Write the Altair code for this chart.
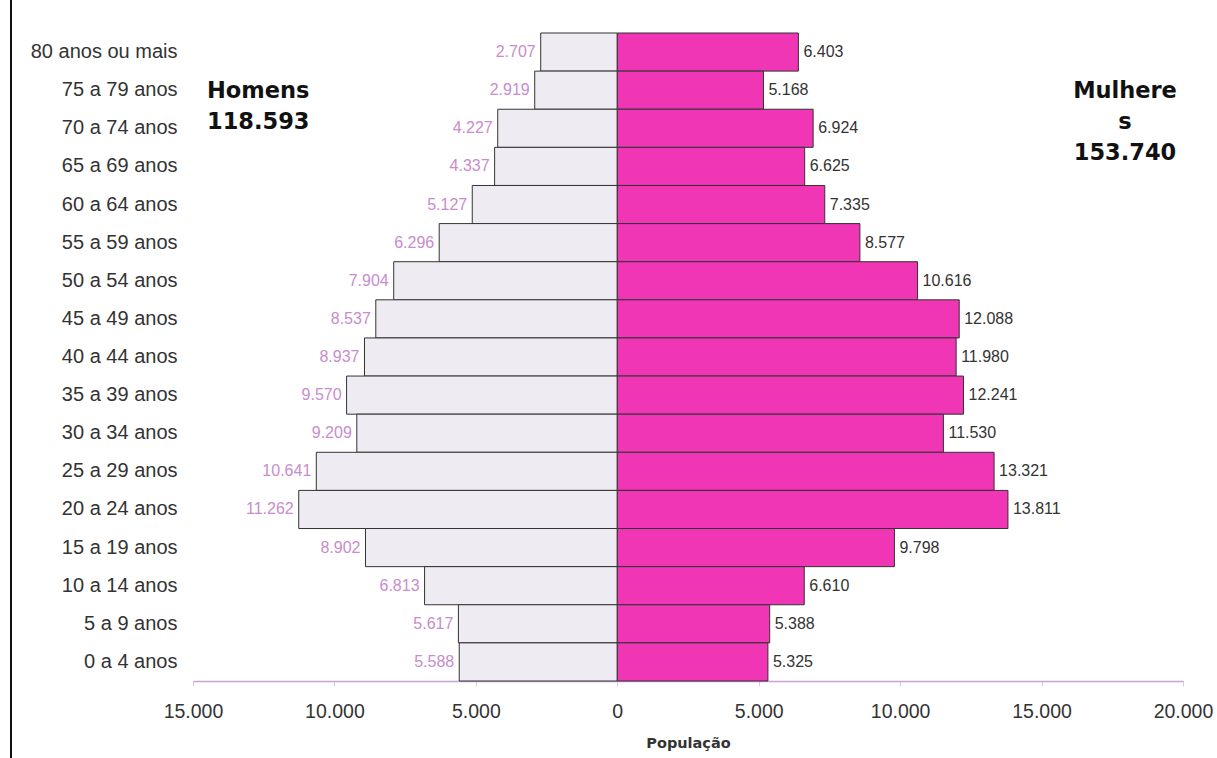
import altair as alt
import pandas as pd

ages = ["80 anos ou mais", "75 a 79 anos", "70 a 74 anos", "65 a 69 anos", "60 a 64 anos",
        "55 a 59 anos", "50 a 54 anos", "45 a 49 anos", "40 a 44 anos", "35 a 39 anos",
        "30 a 34 anos", "25 a 29 anos", "20 a 24 anos", "15 a 19 anos", "10 a 14 anos",
        "5 a 9 anos", "0 a 4 anos"]
homens = [2707, 2919, 4227, 4337, 5127, 6296, 7904, 8537, 8937, 9570, 9209, 10641, 11262,
          8902, 6813, 5617, 5588]
mulheres = [6403, 5168, 6924, 6625, 7335, 8577, 10616, 12088, 11980, 12241, 11530, 13321,
            13811, 9798, 6610, 5388, 5325]
x_ticks = [-15000, -10000, -5000, 0, 5000, 10000, 15000, 20000]

ann_text = ["Homens", "118.593", "Mulhere", "s", "153.740"]
ann_x = [14, 14, 932, 932, 932]
ann_y = [58, 89, 58, 89, 120]
ann_align = ["left", "left", "center", "center", "center"]


def fmt(v):
    return f"{v:,}".replace(",", ".")


rows = []
for a, h, m in zip(ages, homens, mulheres):
    rows.append({"idade": a, "sexo": "Homens", "valor": -h, "rotulo": fmt(h)})
    rows.append({"idade": a, "sexo": "Mulheres", "valor": m, "rotulo": fmt(m)})
df = pd.DataFrame(rows)
ann = pd.DataFrame({"t": ann_text, "px": ann_x, "py": ann_y, "al": ann_align})

FONT = "Liberation Sans"

xscale = alt.Scale(domain=[-15000, 20000], nice=False, zero=False)
yscale = alt.Scale(domain=ages, paddingInner=0, paddingOuter=0)

base = alt.Chart(df)

bars = base.mark_bar(stroke="#333333", strokeWidth=1).encode(
    x=alt.X("valor:Q", scale=xscale,
            axis=alt.Axis(values=x_ticks, title="População",
                          labelExpr="replace(format(abs(datum.value), ','), ',', '.')",
                          labelFont=FONT, labelFontSize=19.5, labelColor="#333333",
                          labelFlush=False, labelPadding=16, tickSize=5, tickColor="#dcc8e8",
                          domainColor="#c9a0dc", domainWidth=1.5, grid=False,
                          titleFont="DejaVu Sans", titleFontSize=14.5, titleFontWeight="bold",
                          titleColor="#333333", titlePadding=16)),
    y=alt.Y("idade:N", scale=yscale, sort=ages,
            axis=alt.Axis(title=None, domain=False, ticks=False, labelFont=FONT,
                          labelFontSize=20, labelColor="#333333", labelPadding=16)),
    color=alt.Color("sexo:N", scale=alt.Scale(domain=["Homens", "Mulheres"],
                                              range=["#eeecf2", "#f035b5"]), legend=None),
)

lab_h = alt.Chart(df[df.sexo == "Homens"]).mark_text(
    align="right", baseline="middle", dx=-5, font=FONT, fontSize=16, color="#c98ccc"
).encode(x=alt.X("valor:Q", scale=xscale), y=alt.Y("idade:N", scale=yscale, sort=ages),
         text="rotulo:N")

lab_m = alt.Chart(df[df.sexo == "Mulheres"]).mark_text(
    align="left", baseline="middle", dx=5, font=FONT, fontSize=16, color="#333333"
).encode(x=alt.X("valor:Q", scale=xscale), y=alt.Y("idade:N", scale=yscale, sort=ages),
         text="rotulo:N")

ann_l = alt.Chart(ann[ann.al == "left"]).mark_text(
    align="left", baseline="middle", font="DejaVu Sans", fontSize=22.5, fontWeight="bold",
    color="#111111"
).encode(x=alt.X("px:Q", scale=None), y=alt.Y("py:Q", scale=None), text="t:N")

ann_c = alt.Chart(ann[ann.al == "center"]).mark_text(
    align="center", baseline="middle", font="DejaVu Sans", fontSize=22.5, fontWeight="bold",
    color="#111111"
).encode(x=alt.X("px:Q", scale=None), y=alt.Y("py:Q", scale=None), text="t:N")

left_line = alt.Chart(pd.DataFrame({"a": [0]})).mark_rule(color="#111111", strokeWidth=2).encode(
    x=alt.value(-182), y=alt.value(-33), y2=alt.value(725))

chart = alt.layer(bars, lab_h, lab_m, ann_l, ann_c, left_line).properties(
    width=990, height=648,
    autosize=alt.AutoSizeParams(type="none"),
    padding={"left": 193, "top": 33, "right": 34, "bottom": 77},
    background="white",
).configure_view(stroke=None)

chart.save("out.html", embed_options={"renderer": "svg", "actions": False})
